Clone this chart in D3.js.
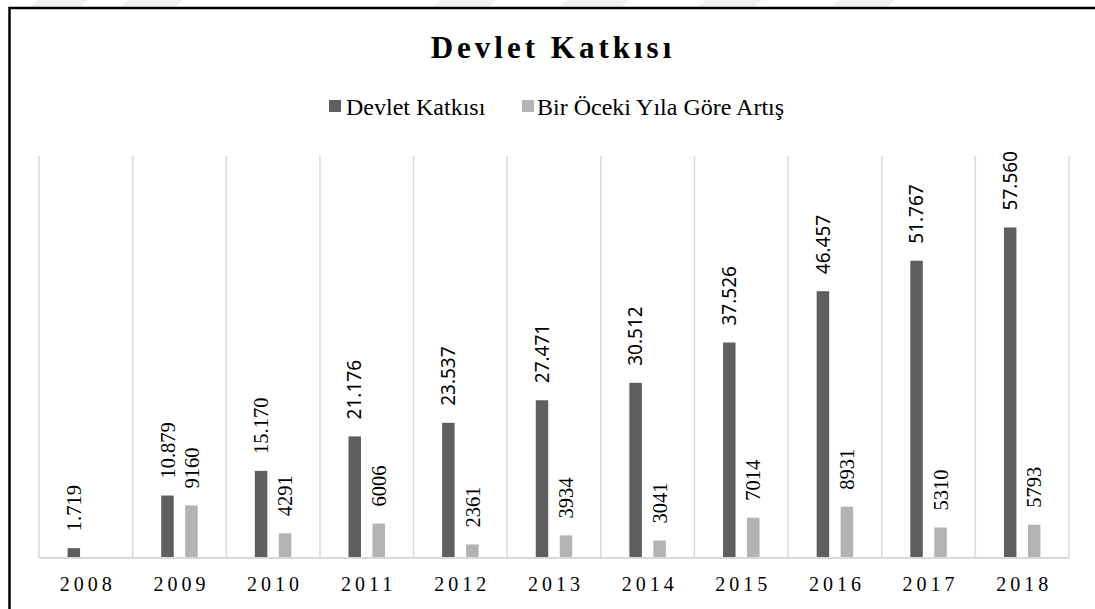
<!DOCTYPE html>
<html><head><meta charset="utf-8">
<script src="https://cdnjs.cloudflare.com/ajax/libs/d3/7.8.5/d3.min.js"></script>
<style>body{margin:0;background:#fff}svg{display:block}</style>
</head><body>
<svg id="c" width="1095" height="609"></svg>
<script>
const years = ["2008","2009","2010","2011","2012","2013","2014","2015","2016","2017","2018"];
const devletKatkisi = [1719,10879,15170,21176,23537,27471,30512,37526,46457,51767,57560];
const artis = [null,9160,4291,6006,2361,3934,3041,7014,8931,5310,5793];
const seriesNames = ["Devlet Katkısı","Bir Öceki Yıla Göre Artış"];
const chartTitle = "Devlet Katkısı";

(function(){
const svg = d3.select("#c");
const serif = "'Liberation Serif','Times New Roman',serif";
const sans = "'Noto Sans','Open Sans',sans-serif";
const dark = "#5f5f5f", light = "#b3b3b3", grid = "#d9d9d9";

const wm = [[30,80],[120,175],[433,489],[559,621],[698,754],[831,887]];
wm.forEach(([a,b])=>{
  svg.append("polygon").attr("points",`${a+8},0 ${b+8},0 ${b},7 ${a},7`).attr("fill","#f1f1f1");
});

svg.append("rect").attr("x",9.5).attr("y",8).attr("width",1100).attr("height",620)
  .attr("fill","#fff").attr("stroke","#000").attr("stroke-width",2.5);

const pLeft = 39, pRight = 1069, pTop = 156, pBottom = 558;
const x = d3.scaleBand().domain(years).range([pLeft,pRight]).padding(0);
const y = d3.scaleLinear().domain([0,70000]).range([pBottom,pTop]);

const bounds = years.map(d=>x(d)).concat([pRight]);
svg.append("g").selectAll("line").data(bounds).join("line")
  .attr("x1",d=>d).attr("x2",d=>d).attr("y1",pTop).attr("y2",pBottom)
  .attr("stroke",grid).attr("stroke-width",1.5);

const bw = 12.5, off = 12;
const fmt = d3.formatLocale({decimal:",",thousands:".",grouping:[3],currency:["",""]}).format(",d");

const g = svg.append("g");
g.selectAll("rect.d").data(years).join("rect").attr("class","d")
  .attr("x",d=>x(d)+x.bandwidth()/2-off-bw/2).attr("width",bw)
  .attr("y",(d,i)=>y(devletKatkisi[i])).attr("height",(d,i)=>pBottom-y(devletKatkisi[i]))
  .attr("fill",dark);
const lightData = years.map((d,i)=>({d,v:artis[i]})).filter(o=>o.v!=null);
g.selectAll("rect.l").data(lightData).join("rect").attr("class","l")
  .attr("x",o=>x(o.d)+x.bandwidth()/2+off-bw/2).attr("width",bw)
  .attr("y",o=>y(o.v)).attr("height",o=>pBottom-y(o.v))
  .attr("fill",light);

svg.append("line").attr("x1",pLeft).attr("x2",pRight).attr("y1",pBottom).attr("y2",pBottom)
  .attr("stroke",grid).attr("stroke-width",2);

const sansFrom = 3;
years.forEach((d,i)=>{
  const cx = x(d)+x.bandwidth()/2-off;
  const yy = y(devletKatkisi[i])-17;
  const isSans = i>=sansFrom;
  svg.append("text").attr("transform",`translate(${cx},${yy}) rotate(-90)`)
    .attr("dy","0.35em").attr("text-anchor","start")
    .attr("font-family",isSans?sans:serif).attr("font-size",isSans?19:20.5)
    .attr("fill","#000").text(fmt(devletKatkisi[i]));
});
lightData.forEach(o=>{
  const cx = x(o.d)+x.bandwidth()/2+off;
  const yy = y(o.v)-17;
  svg.append("text").attr("transform",`translate(${cx},${yy}) rotate(-90)`)
    .attr("dy","0.35em").attr("text-anchor","start")
    .attr("font-family",serif).attr("font-size",20.5)
    .attr("fill","#000").text(String(o.v));
});

svg.append("g").selectAll("text").data(years).join("text")
  .attr("x",d=>x(d)+x.bandwidth()/2+2).attr("y",591)
  .attr("text-anchor","middle").attr("font-family",serif).attr("font-size",20)
  .attr("letter-spacing","4px").attr("fill","#000").text(d=>d);

svg.append("text").attr("x",553).attr("y",58).attr("text-anchor","middle")
  .attr("font-family",serif).attr("font-weight","bold").attr("font-size",31)
  .attr("letter-spacing","4px").attr("fill","#000").text(chartTitle);

const lg = svg.append("g");
const legendPos = [[329,346],[522,537]];
seriesNames.forEach((n,i)=>{
  lg.append("rect").attr("x",legendPos[i][0]).attr("y",100).attr("width",12).attr("height",12)
    .attr("fill",i===0?dark:light);
  lg.append("text").attr("x",legendPos[i][1]).attr("y",115).attr("font-family",serif)
    .attr("font-size",24).attr("fill","#000").text(n);
});
})();
</script>
</body></html>
